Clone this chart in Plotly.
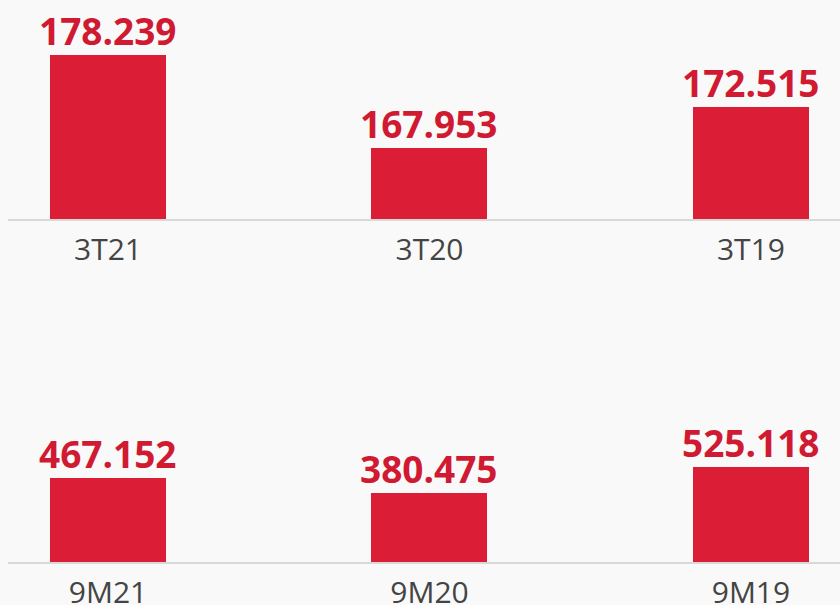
import plotly.graph_objects as go

# Data
quarter_labels = ["3T21", "3T20", "3T19"]
quarter_values = [178.239, 167.953, 172.515]
nine_month_labels = ["9M21", "9M20", "9M19"]
nine_month_values = [467.152, 380.475, 525.118]

BAR_COLOR = "#db1e36"
TEXT_COLOR = "#d01a32"
BG = "#f9f9f9"

def fmt(v):
    return f"{v:.3f}"

fig = go.Figure()
fig.add_trace(go.Bar(
    x=quarter_labels, y=quarter_values,
    marker=dict(color=BAR_COLOR, line=dict(width=0)),
    width=0.361, xaxis="x", yaxis="y", showlegend=False, hoverinfo="skip",
))
fig.add_trace(go.Bar(
    x=nine_month_labels, y=nine_month_values,
    marker=dict(color=BAR_COLOR, line=dict(width=0)),
    width=0.361, xaxis="x2", yaxis="y2", showlegend=False, hoverinfo="skip",
))

annotations = []
for labels, values, xr, yr in [(quarter_labels, quarter_values, "x", "y"),
                               (nine_month_labels, nine_month_values, "x2", "y2")]:
    for lab, v in zip(labels, values):
        annotations.append(dict(
            x=lab, y=v, xref=xr, yref=yr, text=fmt(v), showarrow=False,
            yanchor="bottom", xanchor="center", yshift=-3,
            font=dict(family="Open Sans", size=37, color=TEXT_COLOR, weight="bold"),
        ))

axis_x = dict(
    type="category", range=[-0.311, 2.277], showgrid=False, zeroline=False,
    showline=True, linecolor="#d9d9d9", linewidth=2, ticks="",
    tickfont=dict(family="Open Sans", size=30, color="#444444"),
    ticklabelstandoff=3, fixedrange=True, automargin=False,
)
axis_y = dict(showgrid=False, zeroline=False, showline=False, showticklabels=False,
              ticks="", fixedrange=True, automargin=False)

fig.update_layout(
    template="none",
    width=840, height=605,
    margin=dict(l=8, r=0, t=0, b=0, pad=0),
    paper_bgcolor=BG, plot_bgcolor=BG,
    bargap=0,
    xaxis=dict(axis_x, domain=[0, 1], anchor="y"),
    yaxis=dict(axis_y, domain=[0.6372, 1.0], range=[160, 184.33], anchor="x"),
    xaxis2=dict(axis_x, domain=[0, 1], anchor="y2"),
    yaxis2=dict(axis_y, domain=[0.07025, 0.5041], range=[0, 1443.9], anchor="x2"),
    annotations=annotations,
)

fig.write_html("out.html", config={"displayModeBar": False},
               post_script="document.body.style.margin='0';")
